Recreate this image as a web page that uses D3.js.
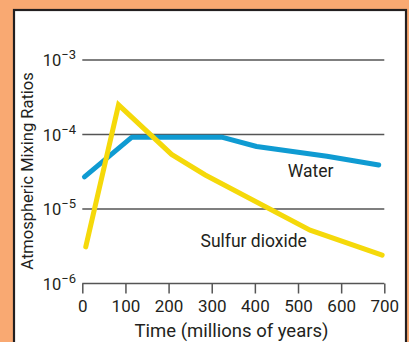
<!DOCTYPE html>
<html>
<head>
<meta charset="utf-8">
<script src="https://cdn.jsdelivr.net/npm/d3@7/dist/d3.min.js"></script>
<style>
  html, body { margin: 0; padding: 0; background: #F9A972; }
  svg { display: block; }
  text { font-family: Roboto, "Noto Sans", sans-serif; fill: #231f20; }
</style>
</head>
<body>
<svg id="chart" width="409" height="342"></svg>
<script>
// Mixing ratios through time
const waterTime   = [5, 115, 323, 404, 567, 687];
const waterValues = [2.7e-5, 9.2e-5, 9.2e-5, 6.9e-5, 5.1e-5, 3.9e-5];

const so2Time   = [8, 84, 207, 285, 528, 695];
const so2Values = [3.1e-6, 2.5e-4, 5.4e-5, 2.86e-5, 5.2e-6, 2.4e-6];

const xTicks = [0, 100, 200, 300, 400, 500, 600, 700];
const yTickExponents = [-3, -4, -5, -6];

const seriesLabels = ["Water", "Sulfur dioxide"];
const xTitle = "Time (millions of years)";
const yTitle = "Atmospheric Mixing Ratios";

const svg = d3.select("#chart");

// white panel with dark frame
svg.append("rect")
  .attr("x", 14).attr("y", 10)
  .attr("width", 392).attr("height", 340)
  .attr("fill", "#fff")
  .attr("stroke", "#231f20")
  .attr("stroke-width", 2.2);

const x = d3.scaleLinear().domain([0, 700]).range([82.3, 384.3]);
const y = d3.scaleLog().domain([1e-6, 1e-3]).range([283.5, 60]);

// horizontal gridlines at each decade
svg.append("g")
  .selectAll("line")
  .data(yTickExponents)
  .join("line")
  .attr("x1", x(0)).attr("x2", x(700))
  .attr("y1", e => y(Math.pow(10, e)))
  .attr("y2", e => y(Math.pow(10, e)))
  .attr("stroke", "#555")
  .attr("stroke-width", 1.5);

// y labels as powers of ten
const yl = svg.append("g")
  .selectAll("text")
  .data(yTickExponents)
  .join("text")
  .attr("x", 76)
  .attr("y", e => y(Math.pow(10, e)))
  .attr("text-anchor", "end")
  .attr("font-size", 16.5);
yl.append("tspan").attr("dy", "0.38em").text("10");
yl.append("tspan").attr("dy", "-0.55em").attr("font-size", 13)
  .text(e => "\u2212" + Math.abs(e));

// x axis
const xAxis = d3.axisBottom(x)
  .tickValues(xTicks)
  .tickSize(10)
  .tickPadding(6)
  .tickFormat(d3.format("d"));
const gx = svg.append("g")
  .attr("transform", `translate(0,${y(1e-6)})`)
  .call(xAxis);
gx.select(".domain").remove();
gx.selectAll(".tick line").attr("stroke", "#555").attr("stroke-width", 1.5);
gx.selectAll(".tick text")
  .attr("font-size", 17)
  .attr("font-family", "Roboto, sans-serif")
  .attr("fill", "#231f20");

// axis titles
svg.append("text")
  .attr("x", 231.5).attr("y", 337)
  .attr("text-anchor", "middle")
  .attr("font-size", 18.5)
  .text(xTitle);

svg.append("text")
  .attr("transform", "translate(33,171) rotate(-90)")
  .attr("text-anchor", "middle")
  .attr("font-size", 16.5)
  .text(yTitle);

// series lines
const line = d3.line()
  .x(d => x(d[0]))
  .y(d => y(d[1]));

const waterData = d3.zip(waterTime, waterValues);
const so2Data = d3.zip(so2Time, so2Values);

svg.append("path")
  .datum(waterData)
  .attr("d", line)
  .attr("fill", "none")
  .attr("stroke", "#0F9BD2")
  .attr("stroke-width", 5)
  .attr("stroke-linecap", "round")
  .attr("stroke-linejoin", "round");

svg.append("path")
  .datum(so2Data)
  .attr("d", line)
  .attr("fill", "none")
  .attr("stroke", "#F5D90A")
  .attr("stroke-width", 5)
  .attr("stroke-linecap", "round")
  .attr("stroke-linejoin", "miter");

// series labels
svg.append("text")
  .attr("x", 310.5).attr("y", 177.3)
  .attr("text-anchor", "middle")
  .attr("font-size", 17.5)
  .text(seriesLabels[0]);

svg.append("text")
  .attr("x", 253.7).attr("y", 246.7)
  .attr("text-anchor", "middle")
  .attr("font-size", 17.5)
  .text(seriesLabels[1]);
</script>
</body>
</html>
